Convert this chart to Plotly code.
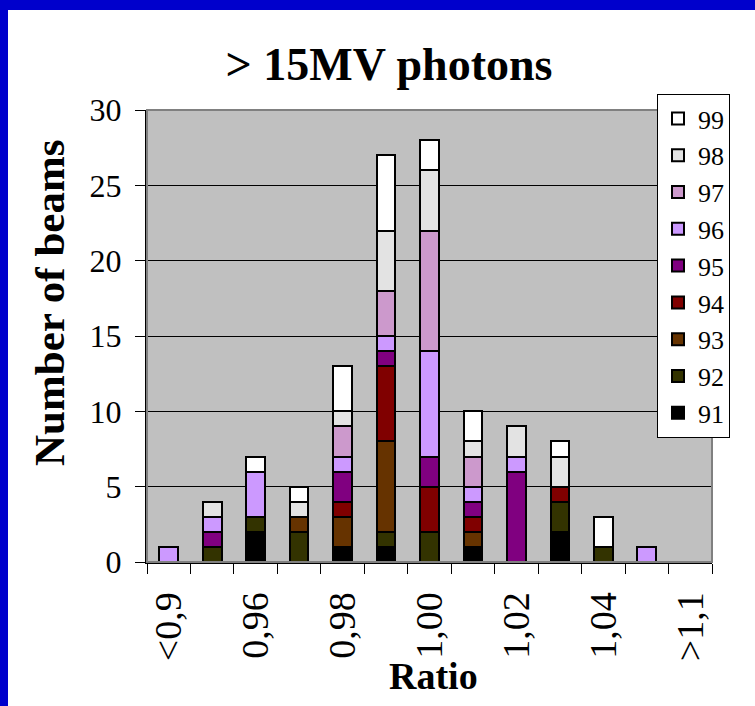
import plotly.graph_objects as go

# ---------------- data ----------------
categories = ["<0,9", "0,95", "0,96", "0,97", "0,98", "0,99", "1,00",
              "1,01", "1,02", "1,03", "1,04", "1,05", ">1,1"]
tick_labels = ["<0,9", "", "0,96", "", "0,98", "", "1,00",
               "", "1,02", "", "1,04", "", ">1,1"]

series_names = ["91", "92", "93", "94", "95", "96", "97", "98", "99"]
s91 = [0, 0, 2, 0, 1, 1, 0, 1, 0, 2, 0, 0, 0]
s92 = [0, 1, 1, 2, 0, 1, 2, 0, 0, 2, 1, 0, 0]
s93 = [0, 0, 0, 1, 2, 6, 0, 1, 0, 0, 0, 0, 0]
s94 = [0, 0, 0, 0, 1, 5, 3, 1, 0, 1, 0, 0, 0]
s95 = [0, 1, 0, 0, 2, 1, 2, 1, 6, 0, 0, 0, 0]
s96 = [1, 1, 3, 0, 1, 1, 7, 1, 1, 0, 0, 1, 0]
s97 = [0, 0, 0, 0, 2, 3, 8, 2, 0, 0, 0, 0, 0]
s98 = [0, 1, 0, 1, 1, 4, 4, 1, 2, 2, 0, 0, 0]
s99 = [0, 0, 1, 1, 3, 5, 2, 2, 0, 1, 2, 0, 0]
series_values = [s91, s92, s93, s94, s95, s96, s97, s98, s99]

series_colors = ["#000000", "#333300", "#663300", "#800000", "#800080",
                 "#CC99FF", "#CC99CC", "#E3E3E3", "#FFFFFF"]

# ---------------- layout geometry ----------------
W, H = 755, 706
ML, MR, MT, MB = 147, 43, 110, 144
PW, PH = W - ML - MR, H - MT - MB
FONT = "Liberation Serif, Times New Roman, serif"


def px_x(px):
    return (px - ML) / PW


def px_y(py):
    return (H - MB - py) / PH


fig = go.Figure()
for name, vals, col in zip(series_names, series_values, series_colors):
    fig.add_trace(go.Bar(
        x=categories,
        y=[v if v else None for v in vals],
        name=name,
        marker=dict(color=col, line=dict(color="black", width=2)),
    ))

shapes = [
    # plot-area border (gray top/right)
    dict(type="rect", xref="paper", yref="paper", x0=0, x1=1, y0=0, y1=1,
         line=dict(color="#808080", width=2), layer="above"),
    # blue frame: top band and left band
    dict(type="rect", xref="paper", yref="paper",
         x0=px_x(0), x1=px_x(W), y0=px_y(10), y1=px_y(0),
         fillcolor="#0000CC", line=dict(width=0), layer="above"),
    dict(type="rect", xref="paper", yref="paper",
         x0=px_x(0), x1=px_x(8), y0=px_y(H), y1=px_y(0),
         fillcolor="#0000CC", line=dict(width=0), layer="above"),
]

annotations = [
    dict(text="<b>Number of beams</b>", xref="paper", yref="paper",
         x=px_x(49), y=px_y(303), textangle=-90, showarrow=False,
         font=dict(family=FONT, size=43, color="black"),
         xanchor="center", yanchor="middle"),
    dict(text="<b>Ratio</b>", xref="paper", yref="paper",
         x=px_x(433), y=px_y(676), showarrow=False,
         font=dict(family=FONT, size=38, color="black"),
         xanchor="center", yanchor="middle"),
]

fig.update_layout(
    width=W, height=H,
    margin=dict(l=ML, r=MR, t=MT, b=MB, pad=0, autoexpand=False),
    paper_bgcolor="white",
    plot_bgcolor="#C0C0C0",
    barmode="stack",
    bargap=0.57,
    font=dict(family=FONT, color="black"),
    title=dict(text="<b>> 15MV photons</b>", x=389 / W, xanchor="center",
               xref="container", yref="container", y=1 - 64 / H,
               yanchor="middle",
               font=dict(family=FONT, size=46, color="black")),
    xaxis=dict(
        type="category",
        categoryorder="array", categoryarray=categories,
        tickmode="array", tickvals=categories, ticktext=tick_labels,
        tickson="boundaries",
        tickangle=-90,
        ticks="outside", ticklen=10, tickwidth=1, tickcolor="black",
        showline=True, linecolor="black", linewidth=2,
        showgrid=False, zeroline=False,
        tickfont=dict(family=FONT, size=38, color="black"),
        ticklabelstandoff=13,
    ),
    yaxis=dict(
        range=[0, 30], tickmode="linear", tick0=0, dtick=5,
        ticks="outside", ticklen=10, tickwidth=1, tickcolor="black",
        showline=True, linecolor="black", linewidth=2,
        showgrid=True, gridcolor="black", gridwidth=1,
        zeroline=False,
        tickfont=dict(family=FONT, size=32, color="black"),
        ticklabelstandoff=7,
    ),
    legend=dict(
        x=px_x(657), y=px_y(94), xanchor="left", yanchor="top",
        bgcolor="white", bordercolor="black", borderwidth=1,
        font=dict(family=FONT, size=26, color="black"),
        traceorder="reversed",
        maxheight=600,
    ),
    shapes=shapes,
    annotations=annotations,
)

fig.write_html("out.html",
               config={"displayModeBar": False},
               post_script="document.body.style.margin='0px';")
